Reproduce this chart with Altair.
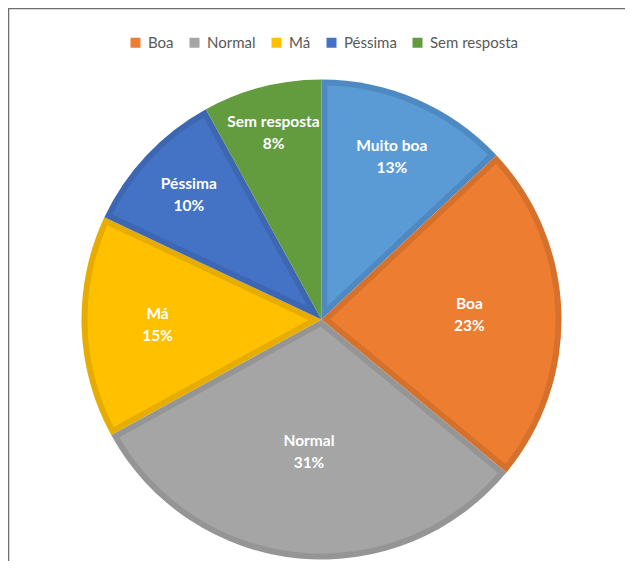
import altair as alt
import pandas as pd

categories = ["Muito boa", "Boa", "Normal", "Má", "Péssima", "Sem resposta"]
values = [13, 23, 31, 15, 10, 8]
fills = ["#5B9BD5", "#ED7D31", "#A5A5A5", "#FFC000", "#4472C4", "#629C3F"]
borders = ["#4E89C2", "#D6712B", "#959595", "#E6AD00", "#3D67B2", "#629C3F"]

df = pd.DataFrame({
    "cat": categories,
    "value": values,
    "idx": list(range(len(categories))),
    "border": borders,
})

CX, CY = 313.5, 311.5
R_OUT, BORDER = 240, 6
R_IN = R_OUT - BORDER
PAD = 2 * (BORDER - 0.15) / R_IN

base = alt.Chart(df).transform_joinaggregate(
    total="sum(value)"
).transform_window(
    cum="sum(value)", sort=[alt.SortField("idx")]
).transform_calculate(
    t0="(datum.cum - datum.value) / datum.total",
    t1="datum.cum / datum.total",
    tm="(datum.cum - datum.value / 2) / datum.total",
)

tscale = alt.Scale(domain=[0, 1], range=[0, 6.283185307179586])

outer = base.transform_calculate(ro=str(R_OUT)).mark_arc().encode(
    theta=alt.Theta("t0:Q", scale=tscale, stack=None),
    theta2="t1:Q",
    radius=alt.Radius("ro:Q", scale=None, stack=None),
    fill=alt.Fill("border:N", scale=None),
    x=alt.value(CX), y=alt.value(CY),
)

inner = base.transform_calculate(
    ro=str(R_IN),
    ri=f"{BORDER - 0.15} / sin(PI * datum.value / datum.total)",
).mark_arc(padAngle=PAD).encode(
    theta=alt.Theta("t0:Q", scale=tscale, stack=None),
    theta2="t1:Q",
    radius=alt.Radius("ro:Q", scale=None, stack=None),
    radius2="ri:Q",
    color=alt.Color(
        "cat:N",
        scale=alt.Scale(domain=categories, range=fills),
        legend=alt.Legend(
            title=None, orient="none", legendX=120, legendY=27,
            direction="horizontal", symbolType="square", symbolSize=100,
            symbolStrokeWidth=0, labelFont="Lato", labelFontSize=15,
            labelColor="#595959", columnPadding=13, labelOffset=5,
            padding=0, values=categories[1:],
        ),
    ),
    x=alt.value(CX), y=alt.value(CY),
)

labels = base.transform_calculate(
    label="datum.cat + '\\n' + datum.value + '%'",
    lr="{'Muito boa': 177, 'Boa': 148, 'Normal': 133, 'Má': 164, 'Péssima': 182, 'Sem resposta': 193}[datum.cat]",
).mark_text(
    font="Lato", fontSize=15.5, fontWeight="bold", color="white",
    lineBreak="\n", lineHeight=22, align="center", baseline="middle", dy=-11,
).encode(
    theta=alt.Theta("tm:Q", scale=tscale, stack=None),
    radius=alt.Radius("lr:Q", scale=None, stack=None),
    text="label:N",
    x=alt.value(CX), y=alt.value(CY),
)

frame_data = alt.Data(values=[{"a": 1}])
left_line = alt.Chart(frame_data).mark_rule(color="#6E6E6E", strokeWidth=1.5).encode(
    x=alt.value(0.5), y=alt.value(0), y2=alt.value(553)
)
top_line = alt.Chart(frame_data).mark_rule(color="#6E6E6E", strokeWidth=1.5).encode(
    y=alt.value(0.5), x=alt.value(0), x2=alt.value(617)
)

chart = alt.layer(left_line, top_line, outer, inner, labels).properties(
    width=617, height=553, padding=0, autosize="none"
).configure_view(stroke=None)

chart.save("out.html", embed_options={"renderer": "svg", "actions": False})
